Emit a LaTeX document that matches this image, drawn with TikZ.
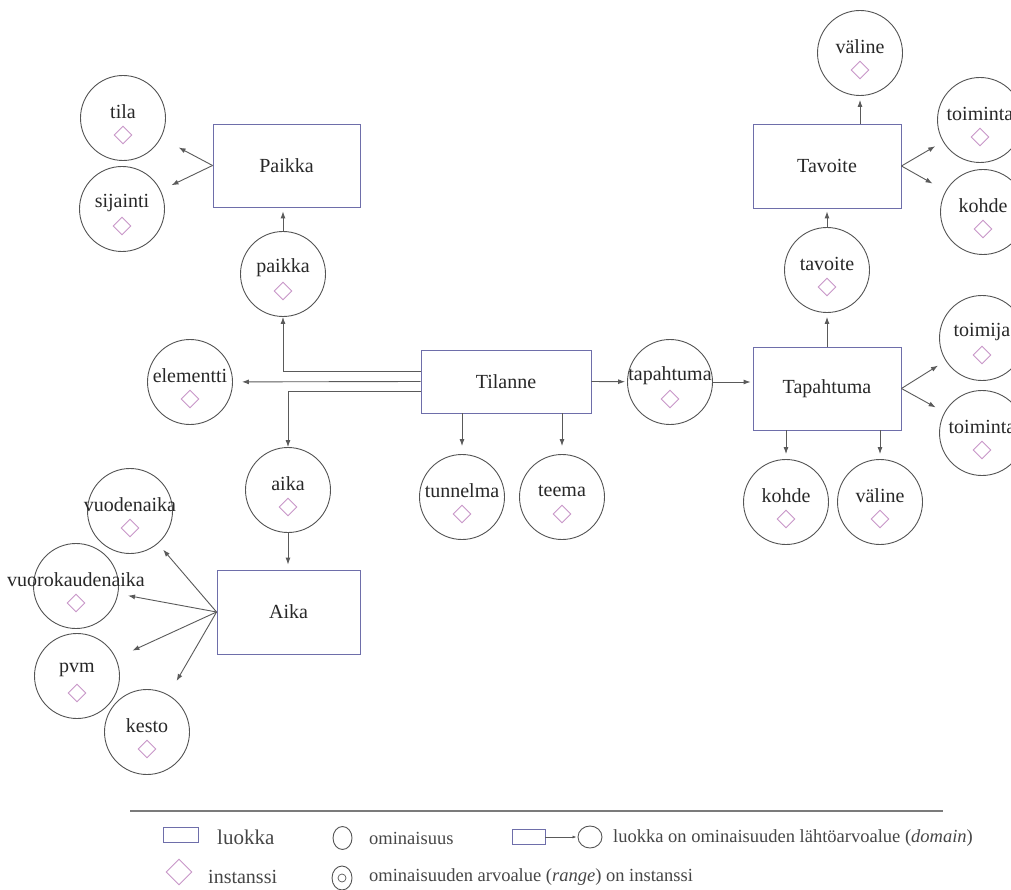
\documentclass[tikz,border=0pt]{standalone}
\usepackage{fontspec}
\setmainfont{Liberation Serif}
\usetikzlibrary{shapes.geometric,arrows.meta}

\definecolor{luokkaviiva}{RGB}{110,110,170}
\definecolor{ominviiva}{RGB}{85,85,85}
\definecolor{instviiva}{RGB}{200,150,200}
\definecolor{nuolivari}{RGB}{90,90,90}
\definecolor{teksti}{RGB}{40,40,40}
\definecolor{selitevari}{RGB}{70,70,70}

\tikzset{
	luokka/.style={draw=luokkaviiva, line width=0.9pt, minimum width=147, minimum height=83, font=\fontsize{20}{24}\selectfont, text=teksti},
	omin/.style={circle, draw=ominviiva, line width=0.9pt, minimum size=85, inner sep=0pt},
	nimi/.style={font=\fontsize{20}{24}\selectfont, text=teksti, inner sep=0pt},
	inst/.style={diamond, draw=instviiva, line width=0.9pt, minimum width=18, minimum height=18, inner sep=0pt},
	nuoli/.style={draw=nuolivari, line width=0.9pt, -{Latex[length=7pt,width=5pt]}},
	selite/.style={font=\fontsize{20}{24}\selectfont, text=selitevari, inner sep=0pt, anchor=west},
	selitepieni/.style={font=\fontsize{18.5}{22}\selectfont, text=selitevari, inner sep=0pt, anchor=west}
}

\newcommand{\ominaisuus}[3]{%
	\node[omin] (#1) at (#2) {};
	\node[nimi] (#1-nimi) at ([yshift=6pt]#1.center) {#3};
	\node[inst] (#1-inst) at ([yshift=-17pt]#1.center) {};
}

\begin{document}
\begin{tikzpicture}[x=1pt,y=-1pt]

	\path[use as bounding box, fill=white] (0,0) rectangle (1011,890);
	\clip (0,0) rectangle (1011,890);

	\node[luokka] (Paikka) at (286.5,165.5) {Paikka};
	\node[luokka, minimum width=170, minimum height=63] (Tilanne) at (506,381.5) {Tilanne};
	\node[luokka, minimum width=143, minimum height=84] (Aika) at (288.5,612) {Aika};
	\node[luokka, minimum width=148, minimum height=84] (Tavoite) at (827,166) {Tavoite};
	\node[luokka, minimum width=148] (Tapahtuma) at (827,388.5) {Tapahtuma};

	\ominaisuus{tila}{123,118}{tila}
	\ominaisuus{sijainti}{122,209}{sijainti}
	\ominaisuus{paikka}{283,274}{paikka}
	\ominaisuus{elementti}{190,382}{elementti}
	\ominaisuus{aika}{288,490}{aika}
	\ominaisuus{vuodenaika}{130,511}{vuodenaika}
	\ominaisuus{vuorokaudenaika}{76,586}{vuorokaudenaika}
	\ominaisuus{pvm}{77,676}{pvm}
	\ominaisuus{kesto}{147,732}{kesto}
	\ominaisuus{tunnelma}{462,497}{tunnelma}
	\ominaisuus{teema}{562,497}{teema}
	\ominaisuus{tapahtuma}{670,382}{tapahtuma}
	\ominaisuus{tavoite}{827,270}{tavoite}
	\ominaisuus{valine1}{860,53}{väline}
	\ominaisuus{toiminta1}{980,120}{toiminta}
	\ominaisuus{kohde1}{983,212}{kohde}
	\ominaisuus{toimija}{982,338}{toimija}
	\ominaisuus{toiminta2}{982,433}{toiminta}
	\ominaisuus{kohde2}{786,502}{kohde}
	\ominaisuus{valine2}{880,502}{väline}

	\path (Paikka.west) edge[nuoli, shorten >=20pt] (tila);
	\path (Paikka.west) edge[nuoli, shorten >=12pt] (sijainti);
	\path (paikka) edge[nuoli, shorten >=4pt] (paikka |- Paikka.south);

	\draw[nuoli] ([yshift=10pt]Tilanne.west) -| (paikka);
	\path (Tilanne.west) edge[nuoli, shorten >=9pt] (elementti);
	\draw[nuoli] ([yshift=-10pt]Tilanne.west) -| (aika);
	\path (aika) edge[nuoli, shorten >=5pt] (aika |- Aika.north);

	\path (Aika.west) edge[nuoli, shorten >=8pt] (vuodenaika);
	\path (Aika.west) edge[nuoli, shorten >=10pt] (vuorokaudenaika);
	\path (Aika.west) edge[nuoli, shorten >=18pt] (pvm);
	\path (Aika.west) edge[nuoli, shorten >=16pt] (kesto);

	\path (tunnelma |- Tilanne.south) edge[nuoli, shorten >=8pt] (tunnelma);
	\path (teema |- Tilanne.south) edge[nuoli, shorten >=8pt] (teema);
	\path (Tilanne.east) edge[nuoli, shorten >=2pt] (tapahtuma);
	\path (tapahtuma) edge[nuoli, shorten >=2pt] (tapahtuma -| Tapahtuma.west);

	\path (Tapahtuma.north) edge[nuoli, shorten >=4pt] (tavoite);
	\path (tavoite) edge[nuoli, shorten >=3pt] (Tavoite.south);
	\path (valine1 |- Tavoite.north) edge[nuoli, shorten >=4pt] (valine1);
	\path (Tavoite.east) edge[nuoli, shorten >=9pt] (toiminta1);
	\path (Tavoite.east) edge[nuoli, shorten >=15pt] (kohde1);
	\path (Tapahtuma.east) edge[nuoli, shorten >=9pt] (toimija);
	\path (Tapahtuma.east) edge[nuoli, shorten >=10pt] (toiminta2);
	\path (kohde2 |- Tapahtuma.south) edge[nuoli, shorten >=5pt] (kohde2);
	\path (valine2 |- Tapahtuma.south) edge[nuoli, shorten >=5pt] (valine2);

	% selitteet
	\draw[draw=nuolivari!80, line width=1.6pt] (130,811) -- (943,811);

	\node[draw=luokkaviiva, line width=0.9pt, minimum width=35, minimum height=15, inner sep=0pt] (sel-luokka) at (180.5,835) {};
	\node[selite, font=\fontsize{21}{24}\selectfont] (sel-luokka-t) at (217,837) {luokka};
	\node[ellipse, draw=ominviiva, line width=0.9pt, minimum width=19, minimum height=23, inner sep=0pt] (sel-omin) at (342.5,838) {};
	\node[selitepieni] (sel-omin-t) at (369,838) {ominaisuus};
	\node[draw=luokkaviiva, line width=0.9pt, minimum width=33, minimum height=15, inner sep=0pt] (sel-dom-l) at (528.5,837) {};
	\node[ellipse, draw=ominviiva, line width=0.9pt, minimum width=24, minimum height=22, inner sep=0pt] (sel-dom-o) at (590,837) {};
	\path (sel-dom-l) edge[nuoli, -{Latex[length=4pt,width=3pt]}, shorten >=1pt] (sel-dom-o);
	\node[selitepieni] (sel-dom-t) at (613,838) {luokka on ominaisuuden lähtöarvoalue (\textit{domain})};

	\node[inst, minimum width=26, minimum height=26] (sel-inst) at (179,872) {};
	\node[selite] (sel-inst-t) at (208,877) {instanssi};
	\node[ellipse, draw=ominviiva, line width=0.9pt, minimum width=20, minimum height=24, inner sep=0pt] (sel-arvo) at (342,878) {};
	\node[circle, draw=ominviiva, line width=0.7pt, minimum size=8, inner sep=0pt] (sel-arvo-s) at (342,878) {};
	\node[selitepieni] (sel-arvo-t) at (369,877) {ominaisuuden arvoalue (\textit{range}) on instanssi};

\end{tikzpicture}
\end{document}
